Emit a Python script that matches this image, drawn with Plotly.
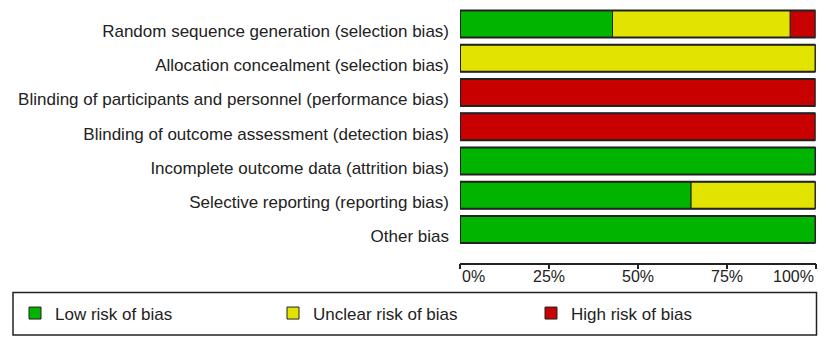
import plotly.graph_objects as go

categories = [
    "Random sequence generation (selection bias)",
    "Allocation concealment (selection bias)",
    "Blinding of participants and personnel (performance bias)",
    "Blinding of outcome assessment (detection bias)",
    "Incomplete outcome data (attrition bias)",
    "Selective reporting (reporting bias)",
    "Other bias",
]
low_risk = [42.9, 0, 0, 0, 100, 65.0, 100]
unclear_risk = [50.0, 100, 0, 0, 0, 35.0, 0]
high_risk = [7.1, 0, 100, 100, 0, 0, 0]
tick_values = [0, 25, 50, 75, 100]
tick_labels = ["0%", "25%", "50%", "75%", "100%"]
series_names = ["Low risk of bias", "Unclear risk of bias", "High risk of bias"]
colors = ["#00b400", "#e3e300", "#c80000"]

W, H = 829, 345
FONT = "Liberation Sans, Arial, sans-serif"
DARK = "#222222"

fig = go.Figure()
series = [low_risk, unclear_risk, high_risk]
base = [0.0] * len(categories)
for name, vals, col in zip(series_names, series, colors):
    fig.add_trace(go.Bar(
        y=categories, x=vals, base=list(base), orientation="h", name=name,
        marker=dict(color=col, line=dict(width=1, color=DARK)),
        width=0.79, hoverinfo="skip",
    ))
    base = [b + v for b, v in zip(base, vals)]

# outline around each full bar
fig.add_trace(go.Bar(
    y=categories, x=base, base=[0] * len(categories), orientation="h",
    marker=dict(color="rgba(0,0,0,0)", line=dict(width=2, color=DARK)),
    width=0.79, showlegend=False, hoverinfo="skip",
))

x_dom = [460 / W, 815.5 / W]
y_dom = [1 - 262.7 / H, 1 - 3.45 / H]

fig.update_layout(
    width=W, height=H, autosize=False,
    margin=dict(l=0, r=0, t=0, b=0),
    paper_bgcolor="white", plot_bgcolor="white",
    barmode="overlay",
    font=dict(family=FONT, size=17, color=DARK),
    xaxis=dict(domain=x_dom, range=[0, 100], showgrid=False, zeroline=False,
               showline=True, linecolor=DARK, linewidth=1.5,
               ticks="outside", ticklen=5, tickwidth=1.5, tickcolor=DARK,
               tickvals=tick_values, showticklabels=False),
    xaxis2=dict(domain=x_dom, range=[0, 100], overlaying="x", anchor="y",
                side="bottom", showgrid=False, zeroline=False, showline=False,
                ticks="inside", ticklen=6, tickwidth=1.5, tickcolor=DARK,
                tickvals=tick_values, showticklabels=False),
    yaxis=dict(domain=y_dom, range=[6.97, -0.6], showgrid=False, zeroline=False,
               showline=False, ticks="", tickfont=dict(size=17, color=DARK),
               ticklabelstandoff=10, ticklabelshift=-7),
    showlegend=True,
    legend=dict(orientation="h", x=15 / W, y=1 - 313.5 / H, xanchor="left",
                yanchor="middle", font=dict(size=17, color=DARK),
                entrywidthmode="pixels", entrywidth=213,
                bgcolor="rgba(0,0,0,0)", borderwidth=0, traceorder="normal"),
    shapes=[dict(type="rect", xref="paper", yref="paper",
                 x0=13 / W, x1=816.5 / W, y0=1 - 335 / H, y1=1 - 292.5 / H,
                 line=dict(color=DARK, width=1.5), fillcolor="rgba(0,0,0,0)")],
)

anchors = ["left"] + ["center"] * (len(tick_values) - 2) + ["right"]
for v, lab, a in zip(tick_values, tick_labels, anchors):
    fig.add_annotation(x=v, xref="x", y=1 - 276 / H, yref="paper", text=lab,
                       showarrow=False, xanchor=a, yanchor="middle",
                       font=dict(size=16, color=DARK, family=FONT))

fig.write_html("out.html",
               config={"displayModeBar": False},
               post_script="document.body.style.margin='0';document.body.style.overflow='hidden';")
